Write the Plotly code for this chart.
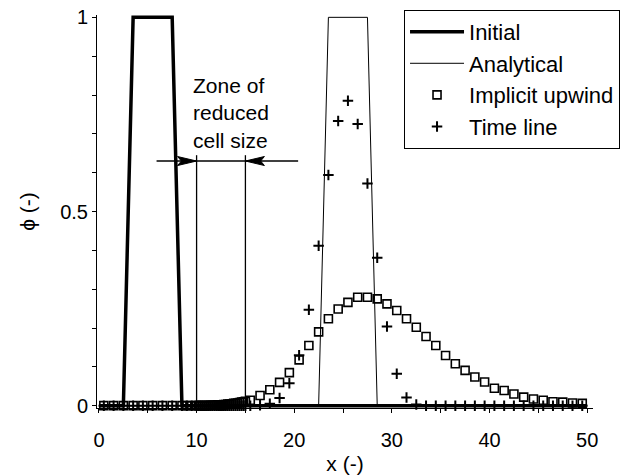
import plotly.graph_objects as go

# ---- data ----
initial_x = [0, 2.5, 3.5, 7.5, 8.5, 50]
initial_y = [0, 0, 1, 1, 0, 0]

analytical_x = [0, 22.5, 23.5, 27.5, 28.5, 50]
analytical_y = [0, 0, 1, 1, 0, 0]

cell_x = [0.5, 1.5, 2.5, 3.5, 4.5, 5.5, 6.5, 7.5, 8.5,
          9.0, 9.5,
          10.0, 10.2, 10.4, 10.6, 10.8, 11.0, 11.2, 11.4, 11.6, 11.8,
          12.0, 12.2, 12.4, 12.6, 12.8, 13.0, 13.2, 13.4, 13.6, 13.8,
          14.0, 14.2, 14.4, 14.6, 14.8, 15.0,
          15.5, 16.5, 17.5, 18.5, 19.5, 20.5, 21.5, 22.5, 23.5, 24.5,
          25.5, 26.5, 27.5, 28.5, 29.5, 30.5, 31.5, 32.5, 33.5, 34.5,
          35.5, 36.5, 37.5, 38.5, 39.5, 40.5, 41.5, 42.5, 43.5, 44.5,
          45.5, 46.5, 47.5, 48.5, 49.5]

upwind_y = [0, 0, 0, 0, 0, 0, 0, 0, 0,
            0, 0,
            0, 0, 0, 0, 0, 0, 0, 0.001, 0.001, 0.001,
            0.001, 0.002, 0.002, 0.002, 0.003, 0.003, 0.004, 0.004, 0.005, 0.006,
            0.006, 0.007, 0.008, 0.009, 0.010, 0.011,
            0.014, 0.026, 0.041, 0.060, 0.085, 0.118, 0.155, 0.190, 0.224, 0.249,
            0.266, 0.279, 0.279, 0.275, 0.262, 0.245, 0.224, 0.202, 0.178, 0.155,
            0.129, 0.108, 0.091, 0.074, 0.061, 0.045, 0.039, 0.030, 0.022, 0.017,
            0.014, 0.010, 0.009, 0.007, 0.006]

timeline_y = [0, 0, 0, 0, 0, 0, 0, 0, 0,
              0, 0,
              0, 0, 0, 0, 0, 0, 0, 0, 0, 0,
              0, 0, 0, 0, 0, 0, 0, 0, 0, 0,
              0, 0, 0, 0, 0, 0,
              0, 0.001, 0.005, 0.020, 0.058, 0.130, 0.247, 0.412, 0.594, 0.733,
              0.785, 0.725, 0.572, 0.381, 0.204, 0.082, 0.021, 0.003, 0, 0,
              0, 0, 0, 0, 0, 0, 0, 0, 0, 0,
              0, 0, 0, 0, 0]

zone_left, zone_right = 10, 15
zone_top = 0.645
arrow_y = 0.63
arrow_from_left, arrow_from_right = 5.9, 20.4

x_ticks = [0, 5, 10, 15, 20, 25, 30, 35, 40, 45, 50]
x_ticktext = ["0", "", "10", "", "20", "", "30", "", "40", "", "50"]
y_ticks = [0, 0.1, 0.2, 0.3, 0.4, 0.5, 0.6, 0.7, 0.8, 0.9, 1.0]
y_ticktext = ["0", "", "", "", "", "0.5", "", "", "", "", "1"]

FONT = "Liberation Sans, Arial, sans-serif"
TICK_FS = 20
TEXT_FS = 21
LEG_FS = 22

# axis geometry (for arrowhead sizing in data units)
X_RANGE = [-0.2, 50.6]
Y_RANGE = [-0.006, 1.006]
W, H = 620, 475
M = dict(l=97, r=27, t=15, b=67, autoexpand=False)
px_per_x = (W - M["l"] - M["r"]) / (X_RANGE[1] - X_RANGE[0])
px_per_y = (H - M["t"] - M["b"]) / (Y_RANGE[1] - Y_RANGE[0])
head_len = 19 / px_per_x
head_half = 4.5 / px_per_y

fig = go.Figure()
fig.add_trace(go.Scatter(x=initial_x, y=initial_y, mode="lines", name="Initial",
                         line=dict(color="black", width=3.5)))
fig.add_trace(go.Scatter(x=analytical_x, y=analytical_y, mode="lines", name="Analytical",
                         line=dict(color="black", width=1)))
fig.add_trace(go.Scatter(x=cell_x, y=upwind_y, mode="markers", name="Implicit upwind",
                         cliponaxis=False,
                         marker=dict(symbol="square-open", size=8, color="black",
                                     line=dict(width=1.6, color="black"))))
fig.add_trace(go.Scatter(x=cell_x, y=timeline_y, mode="markers", name="Time line",
                         cliponaxis=False,
                         marker=dict(symbol="cross-thin", size=7.5, color="black",
                                     line=dict(width=2, color="black"))))

# zone lines
for xv in (zone_left, zone_right):
    fig.add_shape(type="line", x0=xv, x1=xv, y0=0, y1=zone_top,
                  line=dict(color="black", width=1.3))
fig.add_shape(type="line", x0=arrow_from_left, x1=arrow_from_right, y0=arrow_y, y1=arrow_y,
              line=dict(color="black", width=1.3))
# arrowheads (pointing at the zone boundaries)
for tip, direction in ((zone_left, -1), (zone_right, 1)):
    base = tip + direction * head_len
    notch = tip + direction * head_len * 0.8
    path = (f"M {tip} {arrow_y} L {base} {arrow_y + head_half} "
            f"L {notch} {arrow_y} L {base} {arrow_y - head_half} Z")
    fig.add_shape(type="path", path=path, fillcolor="black",
                  line=dict(color="black", width=1))

fig.add_annotation(x=9.4, y=0.86, xref="x", yref="y", xanchor="left", yanchor="top",
                   align="left", showarrow=False,
                   text="Zone of<br>reduced<br>cell size",
                   font=dict(family=FONT, size=TEXT_FS, color="black"))

fig.update_layout(
    width=W, height=H,
    margin=M,
    paper_bgcolor="white", plot_bgcolor="white",
    font=dict(family=FONT, size=TICK_FS, color="black"),
    showlegend=True,
    legend=dict(x=0.619, y=1.013, xanchor="left", yanchor="top",
                bordercolor="black", borderwidth=1, bgcolor="white",
                font=dict(family=FONT, size=LEG_FS, color="black"),
                itemwidth=54, tracegroupgap=0),
    xaxis=dict(range=X_RANGE, tickmode="array", tickvals=x_ticks, ticktext=x_ticktext,
               ticks="outside", ticklen=4, tickcolor="black", showline=True,
               linecolor="black", linewidth=1, showgrid=False, zeroline=False,
               ticklabelstandoff=10,
               title=dict(text="x (-)", font=dict(family=FONT, size=TEXT_FS), standoff=9)),
    yaxis=dict(range=Y_RANGE, tickmode="array", tickvals=y_ticks, ticktext=y_ticktext,
               ticks="outside", ticklen=4, tickcolor="black", showline=True,
               linecolor="black", linewidth=1, showgrid=False, zeroline=False,
               title=dict(text="ϕ (-)", font=dict(family=FONT, size=TEXT_FS), standoff=18)),
)

fig.write_html("out.html")
